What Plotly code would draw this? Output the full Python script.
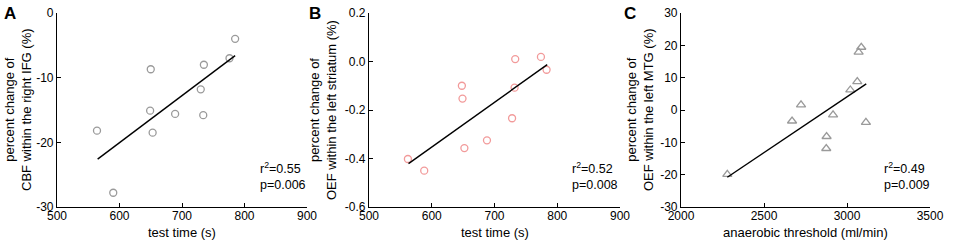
import plotly.graph_objects as go

W, H = 957, 244

# Panel A data
a_x = [564, 590, 650, 649, 653, 689, 730, 734, 735, 776, 785]
a_y = [-18.2, -27.8, -8.7, -15.1, -18.5, -15.6, -11.8, -15.8, -8.0, -7.0, -4.0]
a_fit_x = [565, 785]
a_fit_y = [-22.6, -6.6]

# Panel B data
b_x = [562, 588, 648, 649, 652, 688, 728, 732, 733, 774, 783]
b_y = [-0.402, -0.450, -0.100, -0.153, -0.357, -0.325, -0.234, -0.108, 0.010, 0.019, -0.034]
b_fit_x = [563, 784]
b_fit_y = [-0.421, -0.013]

# Panel C data
c_x = [2279, 2669, 2723, 2877, 2875, 2916, 3020, 3062, 3070, 3086, 3114]
c_y = [-19.9, -3.4, 1.6, -8.2, -11.9, -1.5, 6.2, 8.8, 17.9, 19.4, -3.8]
c_fit_x = [2279, 3116]
c_fit_y = [-20.8, 8.1]

a_ticks_y = [0, -10, -20, -30]
a_ticklabels_y = ["0", "-10", "-20", "-30"]
b_ticks_y = [0.2, 0.0, -0.2, -0.4, -0.6]
b_ticklabels_y = ["0.2", "0.0", "-0.2", "-0.4", "-0.6"]
c_ticks_y = [30, 20, 10, 0, -10, -20, -30]
c_ticklabels_y = ["30", "20", "10", "0", "-10", "-20", "-30"]
ab_ticks_x = [500, 600, 700, 800, 900]
c_ticks_x = [2000, 2500, 3000, 3500]

FONT = "Arial, Liberation Sans, sans-serif"

def px(x):
    return x / W

def py(y):
    return 1 - y / H

fig = go.Figure()

panels = [
    dict(x=a_x, y=a_y, fx=a_fit_x, fy=a_fit_y, sym="circle-open", col="#9a9a9a", size=7,
         xd=(57, 307), xr=[500, 900], yr=[-30, 0], xt=ab_ticks_x, yt=a_ticks_y, ytl=a_ticklabels_y,
         xtitle="test time (s)", ytitle="percent change of<br>CBF within the right IFG (%)",
         ytx=18, letter="A", lx=10, r2="r<sup>2</sup>=0.55", p="p=0.006", ax=258),
    dict(x=b_x, y=b_y, fx=b_fit_x, fy=b_fit_y, sym="circle-open", col="#f29a9a", size=7,
         xd=(369, 620), xr=[500, 900], yr=[-0.6, 0.2], xt=ab_ticks_x, yt=b_ticks_y, ytl=b_ticklabels_y,
         xtitle="test time (s)", ytitle="percent change of<br>OEF within the left striatum (%)",
         ytx=323, letter="B", lx=315, r2="r<sup>2</sup>=0.52", p="p=0.008", ax=570),
    dict(x=c_x, y=c_y, fx=c_fit_x, fy=c_fit_y, sym="triangle-up-open", col="#9a9a9a", size=8,
         xd=(681, 930), xr=[2000, 3500], yr=[-30, 30], xt=c_ticks_x, yt=c_ticks_y, ytl=c_ticklabels_y,
         xtitle="anaerobic threshold (ml/min)", ytitle="percent change of<br>OEF within the left MTG (%)",
         ytx=640, letter="C", lx=630, r2="r<sup>2</sup>=0.49", p="p=0.009", ax=882),
]

annotations = []
layout_axes = {}
for i, p in enumerate(panels, start=1):
    xa = "x" if i == 1 else f"x{i}"
    ya = "y" if i == 1 else f"y{i}"
    fig.add_trace(go.Scatter(x=p["x"], y=p["y"], mode="markers", xaxis=xa, yaxis=ya,
                             marker=dict(symbol=p["sym"], size=p["size"], color=p["col"],
                                         line=dict(width=1.3, color=p["col"])),
                             showlegend=False, cliponaxis=False))
    fig.add_trace(go.Scatter(x=p["fx"], y=p["fy"], mode="lines", xaxis=xa, yaxis=ya,
                             line=dict(color="black", width=1.4), showlegend=False))
    common = dict(showline=True, linecolor="black", linewidth=1.2, ticks="inside",
                  ticklen=4, tickwidth=1.2, tickcolor="black", showgrid=False, zeroline=False,
                  mirror=False, automargin=False,
                  tickfont=dict(family=FONT, size=12, color="black"))
    layout_axes[("xaxis" if i == 1 else f"xaxis{i}")] = dict(
        domain=[px(p["xd"][0]), px(p["xd"][1])], range=p["xr"], tickvals=p["xt"],
        ticktext=[str(v) for v in p["xt"]], tickmode="array", anchor=ya,
        ticklabelstandoff=-3, **common)
    layout_axes[("yaxis" if i == 1 else f"yaxis{i}")] = dict(
        domain=[py(207), py(13)], range=p["yr"], tickvals=p["yt"], ticktext=p["ytl"],
        tickmode="array", anchor=xa, **common)
    cx = (p["xd"][0] + p["xd"][1]) / 2
    annotations.append(dict(x=px(cx), y=py(232), xref="paper", yref="paper", text=p["xtitle"],
                            showarrow=False, font=dict(family=FONT, size=13, color="black"),
                            xanchor="center", yanchor="middle"))
    annotations.append(dict(x=px(p["ytx"]), y=py(110), xref="paper", yref="paper", text=p["ytitle"],
                            textangle=-90, showarrow=False,
                            font=dict(family=FONT, size=13, color="black"),
                            xanchor="center", yanchor="middle"))
    annotations.append(dict(x=px(p["lx"]), y=py(13), xref="paper", yref="paper",
                            text="<b>" + p["letter"] + "</b>", showarrow=False,
                            font=dict(family=FONT, size=17, color="black"),
                            xanchor="center", yanchor="middle"))
    annotations.append(dict(x=px(p["ax"]), y=py(168), xref="paper", yref="paper", text=p["r2"],
                            showarrow=False, font=dict(family=FONT, size=12.5, color="black"),
                            xanchor="left", yanchor="middle"))
    annotations.append(dict(x=px(p["ax"]), y=py(185), xref="paper", yref="paper", text=p["p"],
                            showarrow=False, font=dict(family=FONT, size=12.5, color="black"),
                            xanchor="left", yanchor="middle"))

fig.update_layout(template="none", width=W, height=H, margin=dict(l=0, r=0, t=0, b=0, pad=0),
                  paper_bgcolor="white", plot_bgcolor="white",
                  font=dict(family=FONT, color="black"),
                  annotations=annotations, **layout_axes)

fig.write_html("out.html", config={"displayModeBar": False},
               post_script="document.body.style.margin='0px';document.body.style.overflow='hidden';")
